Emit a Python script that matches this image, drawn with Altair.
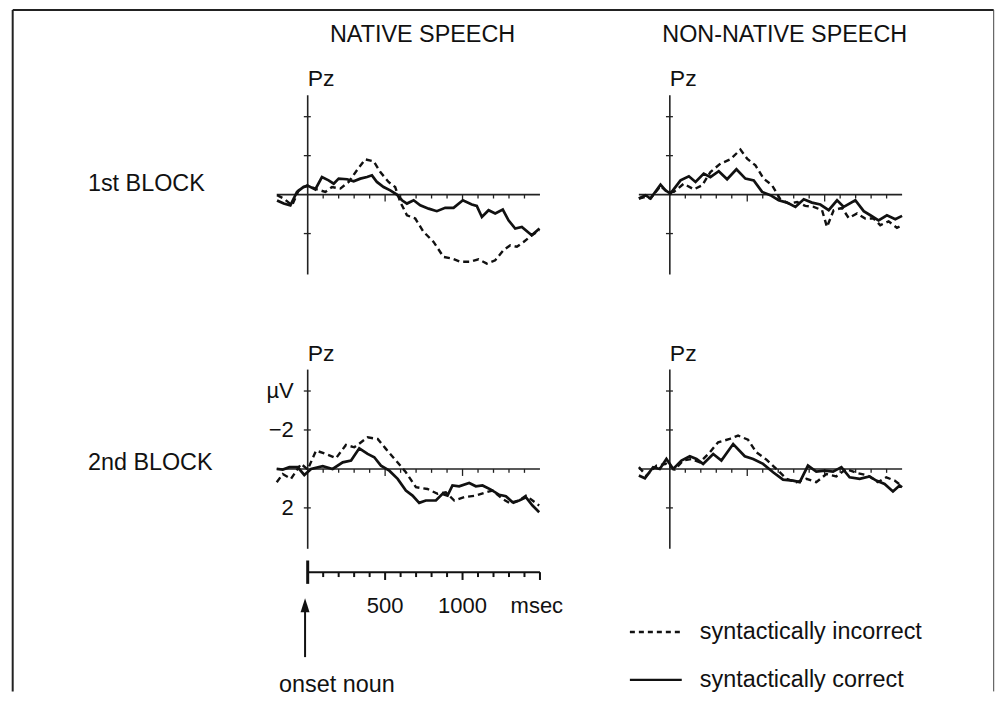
import altair as alt
import pandas as pd

FONT = "Liberation Sans"
INK = "#111111"

# ---------------- data (ms, microvolt; negative plotted upward) ----------------
n1_cor_t = [-198, -155, -112, -69, -26, 6, 49, 92, 135, 168, 200, 254, 297, 340, 383, 415, 447, 490, 533, 576,
            609, 641, 684, 727, 781, 834, 888, 942, 1002, 1060, 1092, 1125, 1168, 1211, 1260, 1297, 1340, 1383, 1447, 1497]
n1_cor_v = [0.3, 0.46, 0.55, -0.14, -0.4, -0.44, -0.27, -0.9, -0.73, -0.56, -0.82, -0.79, -0.68, -0.82, -0.9, -0.99,
            -0.65, -0.39, -0.22, 0.0, 0.29, 0.46, 0.29, 0.55, 0.72, 0.85, 0.68, 0.68, 0.29, 0.51, 0.58, 1.15, 0.8, 0.97,
            0.77, 1.32, 1.74, 1.66, 2.09, 1.74]
n1_inc_t = [-198, -155, -101, -58, -4, 60, 114, 157, 211, 265, 318, 372, 426, 469, 522, 565, 598, 641, 695, 748,
            813, 877, 931, 985, 1049, 1103, 1157, 1211, 1265, 1308, 1351, 1394, 1447, 1497]
n1_inc_v = [0.03, 0.2, 0.55, -0.22, -0.48, -0.27, -0.14, -0.39, -0.31, -0.65, -1.25, -1.81, -1.71, -1.16, -0.65,
            -0.39, 0.38, 1.06, 1.23, 1.91, 2.43, 3.2, 3.28, 3.45, 3.45, 3.32, 3.54, 3.37, 2.85, 2.6, 2.68, 2.43, 2.09, 1.83]

nn1_cor_t = [-200, -157, -125, -60, -28, 4, 69, 123, 166, 219, 262, 316, 370, 430, 488, 542, 596, 649, 703, 757,
             811, 865, 918, 972, 1026, 1080, 1123, 1198, 1252, 1295, 1348, 1402, 1456, 1500]
nn1_cor_v = [0.2, 0.03, 0.2, -0.51, -0.22, -0.05, -0.73, -0.94, -0.65, -1.08, -0.9, -1.2, -0.79, -1.3, -0.82, -0.73,
             -0.14, 0.03, 0.29, 0.41, 0.63, 0.24, 0.41, 0.51, 0.8, 0.29, 0.63, 0.29, 0.85, 1.06, 1.32, 1.06, 1.26, 1.09]
nn1_inc_t = [-200, -157, -125, -60, -17, 26, 90, 155, 209, 262, 327, 391, 456, 499, 553, 606, 660, 714, 768, 822,
             875, 929, 983, 1015, 1058, 1112, 1155, 1209, 1262, 1316, 1359, 1413, 1467, 1500]
nn1_inc_v = [0.2, 0.12, 0.2, -0.44, -0.14, -0.14, -0.56, -0.27, -0.48, -1.16, -1.59, -1.81, -2.31, -1.85, -1.5,
             -0.82, -0.48, 0.24, 0.46, 0.38, 0.58, 0.63, 0.8, 1.66, 0.8, 0.68, 1.2, 0.97, 1.23, 1.23, 1.57, 1.37, 1.71, 1.57]

n2_cor_t = [-200, -161, -118, -65, -22, 22, 97, 161, 226, 280, 333, 387, 430, 473, 527, 581, 634, 677, 720, 763,
            828, 871, 903, 935, 978, 1043, 1086, 1129, 1183, 1237, 1280, 1323, 1366, 1409, 1452, 1495]
n2_cor_v = [0.0, 0.03, -0.09, -0.09, 0.31, 0.0, -0.14, 0.0, -0.34, -0.43, -1.06, -0.77, -0.6, -0.17, 0.09, 0.51,
            1.11, 1.37, 1.74, 1.62, 1.62, 1.28, 1.37, 0.85, 0.89, 0.72, 0.89, 0.85, 1.06, 1.33, 1.4, 1.71, 1.62, 1.45,
            1.88, 2.22]
n2_inc_t = [-200, -161, -108, -43, 0, 54, 118, 183, 247, 301, 387, 452, 505, 570, 634, 699, 774, 839, 892, 946,
            1011, 1086, 1150, 1194, 1258, 1312, 1366, 1409, 1452, 1495]
n2_inc_v = [0.68, 0.26, 0.51, -0.26, 0.03, -0.94, -0.77, -0.55, -1.23, -1.11, -1.62, -1.54, -1.03, -0.43, 0.17,
            0.94, 1.03, 1.28, 1.2, 1.62, 1.45, 1.37, 1.2, 1.11, 1.54, 1.79, 1.62, 1.37, 1.62, 1.88]

nn2_cor_t = [-200, -161, -108, -65, -22, 22, 75, 129, 172, 215, 280, 333, 409, 484, 538, 602, 667, 731, 796, 839,
             892, 946, 1000, 1054, 1108, 1161, 1226, 1290, 1333, 1387, 1441, 1484, 1500]
nn2_cor_v = [0.34, 0.48, -0.09, 0.0, -0.51, 0.0, -0.43, -0.65, -0.51, -0.26, -0.77, -0.43, -1.28, -0.65, -0.51,
             -0.26, 0.17, 0.55, 0.6, 0.68, -0.17, 0.14, 0.09, 0.14, -0.09, 0.43, 0.51, 0.38, 0.6, 0.77, 1.16, 0.85, 0.94]
nn2_inc_t = [-200, -151, -86, -22, 32, 86, 140, 194, 258, 312, 387, 441, 505, 559, 624, 688, 753, 817, 882, 946,
             1011, 1075, 1140, 1204, 1280, 1344, 1398, 1452, 1500]
nn2_inc_v = [-0.09, 0.34, -0.17, -0.26, 0.03, -0.43, -0.51, -0.34, -0.85, -1.37, -1.54, -1.71, -1.5, -0.85, -0.48,
             0.0, 0.51, 0.68, 0.51, 0.68, 0.26, 0.38, 0.0, 0.2, 0.34, 0.68, 0.43, 0.6, 0.89]

col_titles = ["NATIVE SPEECH", "NON-NATIVE SPEECH"]
row_titles = ["1st BLOCK", "2nd BLOCK"]
electrode = "Pz"
y_tick_values = [-4, -2, 2]
y_tick_labels = ["µV", "−2", "2"]
x_tick_values = list(range(100, 1500, 100))
bar_tick_values = list(range(100, 1600, 100))
bar_label_values = [500, 1000, 1480]
bar_labels = ["500", "1000", "msec"]
legend_labels = ["syntactically incorrect", "syntactically correct"]

# ---------------- geometry ----------------
W, H = 263.5, 179.4
XD = [-200, 1500]
YD = [-5.1, 4.1]
FS = 23.4


def xs():
    return alt.Scale(domain=XD, nice=False, zero=False)


def ys():
    return alt.Scale(domain=YD, reverse=True, nice=False, zero=False)


def X(f):
    return alt.X(f, type="quantitative", scale=xs(), axis=None)


def Y(f):
    return alt.Y(f, type="quantitative", scale=ys(), axis=None)


def curve(t, v, dashed):
    df = pd.DataFrame({"t": t, "v": v})
    if dashed:
        m = alt.Chart(df).mark_line(color=INK, strokeWidth=2.4, strokeDash=[6, 4])
    else:
        m = alt.Chart(df).mark_line(color=INK, strokeWidth=2.7)
    return m.encode(x=X("t"), y=Y("v"), order="t:Q")


def axes_layers():
    zero = alt.Chart(pd.DataFrame({"t0": [XD[0]], "t1": [XD[1]], "v": [0]})).mark_rule(
        color="#222", strokeWidth=1.6).encode(x=X("t0"), x2="t1", y=Y("v"))
    yax = alt.Chart(pd.DataFrame({"t": [0], "v0": [YD[0]], "v1": [YD[1]]})).mark_rule(
        color="#222", strokeWidth=1.6).encode(x=X("t"), y=Y("v0"), y2="v1")
    tk = pd.DataFrame({"t": x_tick_values,
                       "v0": [0] * len(x_tick_values),
                       "v1": [0.36 if t in (500, 1000) else 0.2 for t in x_tick_values]})
    xt = alt.Chart(tk).mark_rule(color="#222", strokeWidth=1.3).encode(x=X("t"), y=Y("v0"), y2="v1")
    yt = alt.Chart(pd.DataFrame({"t0": [-25] * 3, "t1": [20] * 3, "v": y_tick_values})).mark_rule(
        color="#222", strokeWidth=1.3).encode(x=X("t0"), x2="t1", y=Y("v"))
    return [zero, yax, xt, yt]


def dtext(texts, ts, vs, align="left", baseline="alphabetic", size=FS):
    df = pd.DataFrame({"s": texts, "t": ts, "v": vs})
    return alt.Chart(df).mark_text(align=align, baseline=baseline, fontSize=size, font=FONT,
                                   color=INK).encode(x=X("t"), y=Y("v"), text="s:N")


def ptext(text, x, y, align="left", baseline="alphabetic", size=FS):
    df = pd.DataFrame({"s": [text]})
    return alt.Chart(df).mark_text(align=align, baseline=baseline, fontSize=size, font=FONT,
                                   color=INK).encode(x=alt.value(x), y=alt.value(y), text="s:N")


def prule(x, y, x2=None, y2=None, width=2, color="#222"):
    enc = {"x": alt.value(x), "y": alt.value(y)}
    if x2 is not None:
        enc["x2"] = alt.value(x2)
    if y2 is not None:
        enc["y2"] = alt.value(y2)
    return alt.Chart(pd.DataFrame({"a": [0]})).mark_rule(color=color, strokeWidth=width).encode(**enc)


def panel(extra, cor_t, cor_v, inc_t, inc_v):
    layers = axes_layers() + [curve(inc_t, inc_v, True), curve(cor_t, cor_v, False)] + extra
    return alt.layer(*layers).properties(width=W, height=H)


pz = dtext([electrode], [0], [-5.55], size=23)

# panel 1: column title, row title, frame
frame = [
    prule(-264.3, -85.25, y2=596.75, width=2),
    prule(-264.3, -85.25, x2=717.7, width=2),
    prule(717.7, -85.25, y2=596.75, width=1, color="#444"),
]
p1 = panel([pz, ptext(col_titles[0], 146, -53, align="center"),
            ptext(row_titles[0], -189, 96)] + frame,
           n1_cor_t, n1_cor_v, n1_inc_t, n1_inc_v)

p2 = panel([pz, ptext(col_titles[1], 146, -53, align="center")],
           nn1_cor_t, nn1_cor_v, nn1_inc_t, nn1_inc_v)

# panel 3: y labels, time scale bar, onset arrow
ylab = dtext(y_tick_labels, [-90] * 3, y_tick_values, align="right", baseline="middle", size=22)
bar = alt.Chart(pd.DataFrame({"t0": [0], "t1": [1500], "v": [5.3]})).mark_rule(
    color=INK, strokeWidth=2).encode(x=X("t0"), x2="t1", y=Y("v"))
btk = pd.DataFrame({"t": bar_tick_values,
                    "v0": [5.3] * len(bar_tick_values),
                    "v1": [5.7 if t in (500, 1000, 1500) else 5.55 for t in bar_tick_values]})
bar_ticks = alt.Chart(btk).mark_rule(color=INK, strokeWidth=2).encode(x=X("t"), y=Y("v0"), y2="v1")
bar_start = alt.Chart(pd.DataFrame({"t": [0], "v0": [4.7], "v1": [5.9]})).mark_rule(
    color=INK, strokeWidth=3).encode(x=X("t"), y=Y("v0"), y2="v1")
bar_lab = dtext(bar_labels, bar_label_values, [7.4] * 3, align="center", size=22)
arrow_shaft = alt.Chart(pd.DataFrame({"t": [-17], "v0": [7.3], "v1": [9.66]})).mark_rule(
    color=INK, strokeWidth=2).encode(x=X("t"), y=Y("v0"), y2="v1")
arrow_head = alt.Chart(pd.DataFrame({"t": [-17], "v": [7.05]})).mark_point(
    shape="M0,-0.8L0.45,0.6L-0.45,0.6Z", size=400, filled=True, color=INK, opacity=1).encode(x=X("t"), y=Y("v"))
onset = dtext(["onset noun"], [-185], [11.45])

p3 = panel([pz, ylab, ptext(row_titles[1], -189, 101), bar, bar_ticks, bar_start, bar_lab,
            arrow_shaft, arrow_head, onset],
           n2_cor_t, n2_cor_v, n2_inc_t, n2_inc_v)

# panel 4: legend
leg_dash = alt.Chart(pd.DataFrame({"t0": [-258], "t1": [77], "v": [8.37]})).mark_rule(
    color=INK, strokeWidth=2.4, strokeDash=[5, 4]).encode(x=X("t0"), x2="t1", y=Y("v"))
leg_solid = alt.Chart(pd.DataFrame({"t0": [-258], "t1": [77], "v": [10.83]})).mark_rule(
    color=INK, strokeWidth=2.4).encode(x=X("t0"), x2="t1", y=Y("v"))
leg_text = dtext(legend_labels, [194, 194], [8.37, 10.83], baseline="middle")

p4 = panel([pz, leg_dash, leg_solid, leg_text],
           nn2_cor_t, nn2_cor_v, nn2_inc_t, nn2_inc_v)

chart = alt.concat(p1, p2, p3, p4, columns=2,
                   spacing={"row": 94.6, "column": 98.5}, bounds="flush").properties(
    padding={"left": 3, "top": 0, "right": 0, "bottom": 0}
).configure(font=FONT, background="white").configure_view(stroke=None, strokeWidth=0)

chart.save("out.html", embed_options={"renderer": "svg", "actions": False})
